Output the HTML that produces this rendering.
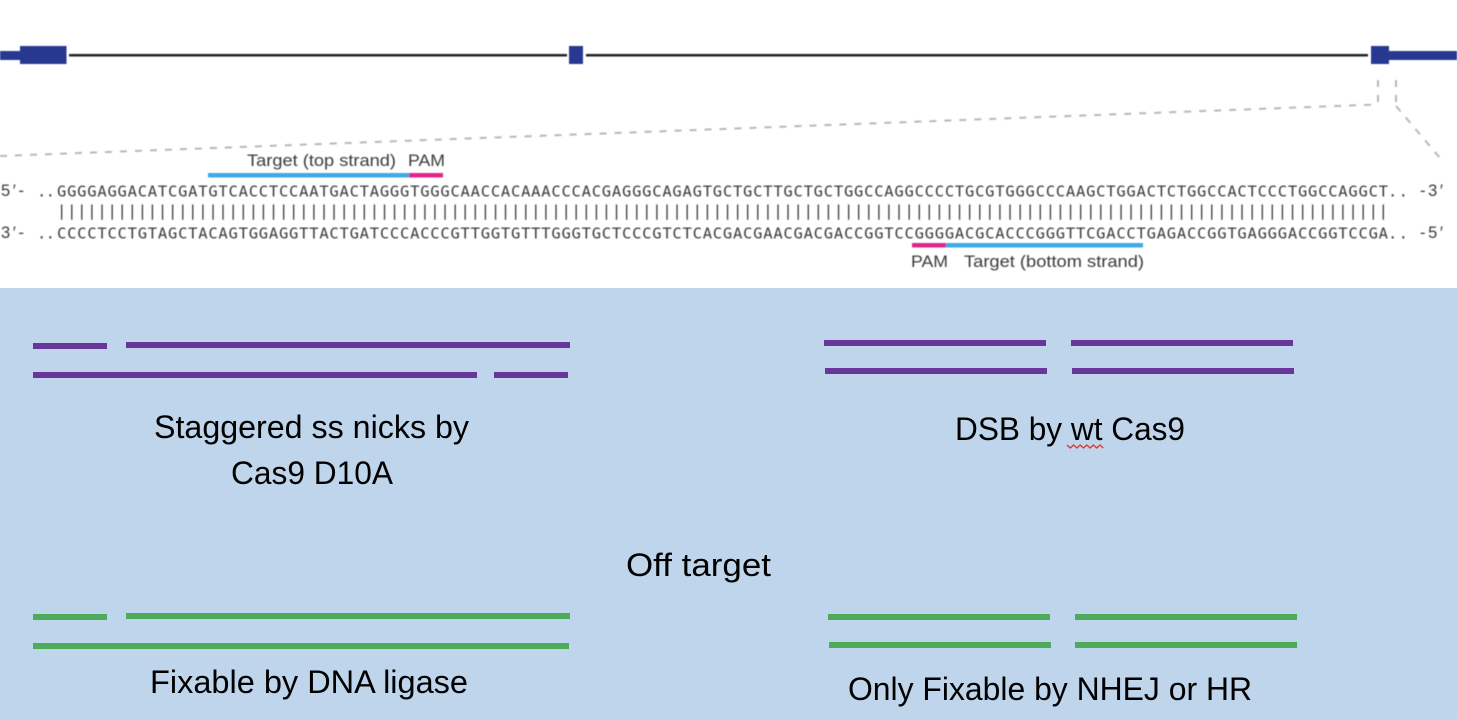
<!DOCTYPE html>
<html><head><meta charset="utf-8"><style>
html,body{margin:0;padding:0;background:#fff}
svg{display:block}
.m{font-family:"DejaVu Sans Mono","Liberation Mono",monospace;font-size:15.500px;fill:#3a3a3a}
.e{font-family:"Liberation Sans",sans-serif;font-size:16.500px;fill:#3a3a3a}
.h{font-family:"Liberation Sans",sans-serif;font-size:16.500px;fill:#3a3a3a}
.c{font-family:"Liberation Sans",sans-serif;font-size:32px;fill:#000}
</style></head><body>
<svg width="1457" height="719" viewBox="0 0 1457 719" xmlns="http://www.w3.org/2000/svg">
<defs><filter id="b" x="-2%" y="-10%" width="104%" height="120%"><feGaussianBlur stdDeviation="0.4"/></filter></defs>
<rect width="1457" height="719" fill="#fff"/>
<g filter="url(#b)">
<g fill="#26398f">
<rect x="0" y="51" width="22" height="9"/><rect x="20" y="46" width="46.500" height="18"/>
<rect x="569" y="46" width="14" height="18"/>
<rect x="1371" y="46" width="18" height="18"/><rect x="1387" y="51" width="70" height="9"/>
</g>
<g fill="#222">
<rect x="69" y="54" width="498" height="2.500"/><rect x="586" y="54" width="782" height="2.500"/>
</g>
<g fill="none" stroke="#b8b8b8" stroke-width="2" stroke-dasharray="7 8">
<path d="M0 156L1377 104.500"/><path d="M1378 80V104"/><path d="M1396 80V102"/><path d="M1396 106L1440 158"/>
</g>
<text class="h" x="247" y="166" textLength="149" lengthAdjust="spacingAndGlyphs">Target (top strand)</text>
<text class="h" x="408" y="166" textLength="37" lengthAdjust="spacingAndGlyphs">PAM</text>
<rect x="208" y="173" width="201" height="4.500" fill="#3fa9e8"/>
<rect x="409" y="173" width="34" height="4.500" fill="#e0288a"/>
<text class="e" x="1" y="196" textLength="23" lengthAdjust="spacing">5′-</text>
<text class="m" x="37" y="196.500" textLength="18" lengthAdjust="spacing">..</text>
<text class="m" x="57" y="196.500" textLength="1331" lengthAdjust="spacing">GGGGAGGACATCGATGTCACCTCCAATGACTAGGGTGGGCAACCACAAACCCACGAGGGCAGAGTGCTGCTTGCTGCTGGCCAGGCCCCTGCGTGGGCCCAAGCTGGACTCTGGCCACTCCCTGGCCAGGCT</text>
<text class="m" x="1388" y="196.500" textLength="20" lengthAdjust="spacing">..</text>
<text class="e" x="1420" y="196" textLength="23" lengthAdjust="spacing">-3′</text>
<text class="m" x="57" y="216" textLength="1331" lengthAdjust="spacing">||||||||||||||||||||||||||||||||||||||||||||||||||||||||||||||||||||||||||||||||||||||||||||||||||||||||||||||||||||||||||||||||||||</text>
<text class="e" x="1" y="238" textLength="23" lengthAdjust="spacing">3′-</text>
<text class="m" x="37" y="238.500" textLength="18" lengthAdjust="spacing">..</text>
<text class="m" x="57" y="238.500" textLength="1331" lengthAdjust="spacing">CCCCTCCTGTAGCTACAGTGGAGGTTACTGATCCCACCCGTTGGTGTTTGGGTGCTCCCGTCTCACGACGAACGACGACCGGTCCGGGGACGCACCCGGGTTCGACCTGAGACCGGTGAGGGACCGGTCCGA</text>
<text class="m" x="1388" y="238.500" textLength="20" lengthAdjust="spacing">..</text>
<text class="e" x="1420" y="238" textLength="23" lengthAdjust="spacing">-5′</text>
<rect x="912" y="243" width="34" height="4.500" fill="#e0288a"/>
<rect x="946" y="243" width="197" height="4.500" fill="#3fa9e8"/>
<text class="h" x="911" y="267" textLength="37" lengthAdjust="spacingAndGlyphs">PAM</text>
<text class="h" x="964" y="267" textLength="180" lengthAdjust="spacingAndGlyphs">Target (bottom strand)</text>
</g>
<rect x="0" y="288" width="1457" height="431" fill="#bfd5eb"/>
<g fill="#67379a">
<rect x="33" y="343" width="74" height="6"/><rect x="126" y="342" width="444" height="6"/>
<rect x="33" y="372" width="444" height="6"/><rect x="494" y="372" width="74" height="6"/>
<rect x="824" y="340" width="222" height="6"/><rect x="1071" y="340" width="222" height="6"/>
<rect x="825" y="368" width="222" height="6"/><rect x="1072" y="368" width="222" height="6"/>
</g>
<g fill="#4fab5c">
<rect x="33" y="614" width="74" height="6"/><rect x="126" y="613" width="444" height="6"/>
<rect x="33" y="643" width="536" height="6"/>
<rect x="828" y="614" width="222" height="6"/><rect x="1075" y="614" width="222" height="6"/>
<rect x="829" y="642" width="222" height="6"/><rect x="1075" y="642" width="222" height="6"/>
</g>
<text class="c" x="154" y="438" textLength="315" lengthAdjust="spacingAndGlyphs">Staggered ss nicks by</text>
<text class="c" x="231" y="484" textLength="162" lengthAdjust="spacingAndGlyphs">Cas9 D10A</text>
<text class="c" x="955" y="440" textLength="230" lengthAdjust="spacingAndGlyphs">DSB by wt Cas9</text>
<path d="M1067 445l3.300 3 3.300-3 3.300 3 3.300-3 3.300 3 3.300-3 3.300 3 3.300-3 3.300 3 3.300-3 3.300 3" fill="none" stroke="#e0352b" stroke-width="1.300"/>
<text class="c" x="626" y="576" textLength="145" lengthAdjust="spacingAndGlyphs">Off target</text>
<text class="c" x="150" y="693" textLength="318" lengthAdjust="spacingAndGlyphs">Fixable by DNA ligase</text>
<text class="c" x="848" y="700" textLength="404" lengthAdjust="spacingAndGlyphs">Only Fixable by NHEJ or HR</text>
</svg>
</body></html>
